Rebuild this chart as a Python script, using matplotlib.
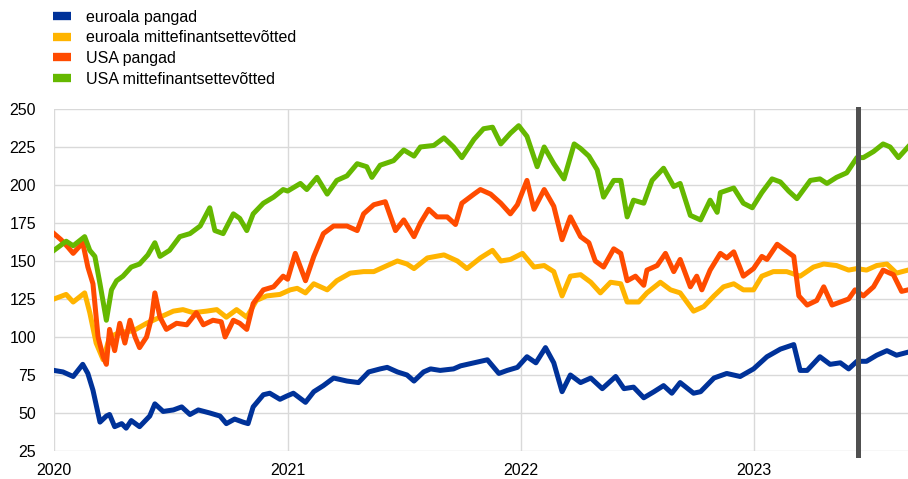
import pandas as pd
import matplotlib
matplotlib.use("Agg")
from matplotlib import pyplot as plt
from matplotlib.lines import Line2D

plt.rcParams['font.family'] = ['Liberation Sans', 'DejaVu Sans']

labels = ['euroala pangad', 'euroala mittefinantsettevõtted', 'USA pangad', 'USA mittefinantsettevõtted']
colors = ['#003299', '#FFB400', '#FF4B00', '#65B800']

ea_banks_dates = [
    '2020-01-01', '2020-01-15', '2020-01-31', '2020-02-15', '2020-02-23', '2020-03-02', '2020-03-13',
    '2020-03-23', '2020-03-28', '2020-04-05', '2020-04-16', '2020-04-23', '2020-05-01', '2020-05-14',
    '2020-05-30', '2020-06-07', '2020-06-20', '2020-07-06', '2020-07-19', '2020-08-01', '2020-08-14',
    '2020-09-01', '2020-09-17', '2020-09-27', '2020-10-10', '2020-10-23', '2020-10-31', '2020-11-08',
    '2020-11-24', '2020-12-04', '2020-12-20', '2020-12-30', '2021-01-10', '2021-01-29', '2021-02-11',
    '2021-02-26', '2021-03-14', '2021-04-04', '2021-04-22', '2021-05-08', '2021-05-26', '2021-06-06',
    '2021-06-22', '2021-07-07', '2021-07-18', '2021-08-02', '2021-08-13', '2021-08-28', '2021-09-18',
    '2021-09-29', '2021-10-20', '2021-11-10', '2021-11-28', '2021-12-11', '2021-12-27', '2022-01-11',
    '2022-01-25', '2022-02-09', '2022-02-22', '2022-03-07', '2022-03-20', '2022-04-05', '2022-04-21',
    '2022-05-09', '2022-05-30', '2022-06-12', '2022-06-27', '2022-07-13', '2022-07-29', '2022-08-13',
    '2022-08-26', '2022-09-08', '2022-09-29', '2022-10-10', '2022-10-31', '2022-11-20', '2022-12-11',
    '2023-01-01', '2023-01-22', '2023-02-12', '2023-03-05', '2023-03-15', '2023-03-26', '2023-04-15',
    '2023-05-01', '2023-05-17', '2023-05-30', '2023-06-12', '2023-06-27', '2023-07-13', '2023-07-29',
    '2023-08-13', '2023-08-31']
ea_banks = [
    78, 77, 74, 82, 76, 65, 44, 48, 49, 41, 43, 40, 45, 41,
    48, 56, 51, 52, 54, 49, 52, 50, 48, 43, 46, 44, 43, 54,
    62, 63, 59, 61, 63, 57, 64, 68, 73, 71, 70, 77, 79, 80,
    77, 75, 71, 77, 79, 78, 79, 81, 83, 85, 76, 78, 80, 87,
    83, 93, 83, 64, 75, 70, 73, 66, 74, 66, 67, 60, 64, 68,
    63, 70, 63, 64, 73, 76, 74, 79, 87, 92, 95, 78, 78, 87,
    82, 83, 79, 84, 84, 88, 91, 88, 90]

ea_nfc_dates = [
    '2020-01-01', '2020-01-20', '2020-01-31', '2020-02-18', '2020-02-26', '2020-03-07', '2020-03-18',
    '2020-03-28', '2020-04-13', '2020-05-04', '2020-05-25', '2020-06-15', '2020-07-06', '2020-07-21',
    '2020-08-06', '2020-08-27', '2020-09-12', '2020-09-27', '2020-10-13', '2020-10-29', '2020-11-13',
    '2020-11-29', '2020-12-20', '2021-01-05', '2021-01-16', '2021-01-29', '2021-02-11', '2021-03-04',
    '2021-03-19', '2021-04-09', '2021-04-30', '2021-05-16', '2021-06-06', '2021-06-22', '2021-07-07',
    '2021-07-18', '2021-08-08', '2021-09-03', '2021-09-24', '2021-10-09', '2021-10-30', '2021-11-18',
    '2021-12-01', '2021-12-16', '2022-01-04', '2022-01-22', '2022-02-07', '2022-02-22', '2022-03-07',
    '2022-03-20', '2022-04-05', '2022-04-21', '2022-05-06', '2022-05-22', '2022-06-07', '2022-06-17',
    '2022-07-05', '2022-07-18', '2022-08-08', '2022-08-24', '2022-09-08', '2022-09-29', '2022-10-15',
    '2022-10-31', '2022-11-15', '2022-12-01', '2022-12-16', '2023-01-01', '2023-01-14', '2023-02-01',
    '2023-02-22', '2023-03-15', '2023-04-05', '2023-04-21', '2023-05-11', '2023-05-30', '2023-06-12',
    '2023-06-27', '2023-07-13', '2023-07-29', '2023-08-13', '2023-08-31']
ea_nfc = [
    125, 128, 123, 129, 116, 96, 85, 100, 103, 104, 109, 113, 117, 118,
    116, 117, 118, 113, 118, 113, 124, 127, 128, 131, 132, 129, 135, 131,
    137, 142, 143, 143, 147, 150, 148, 145, 152, 154, 150, 145, 152, 157,
    150, 151, 155, 146, 147, 143, 127, 140, 141, 136, 129, 136, 135, 123,
    123, 129, 136, 131, 129, 117, 120, 127, 133, 135, 131, 131, 140, 143,
    143, 140, 146, 148, 147, 144, 145, 144, 147, 148, 142, 144]

us_banks_dates = [
    '2020-01-01', '2020-01-12', '2020-01-23', '2020-01-31', '2020-02-15', '2020-02-23', '2020-03-02',
    '2020-03-10', '2020-03-18', '2020-03-23', '2020-03-28', '2020-04-05', '2020-04-13', '2020-04-21',
    '2020-04-29', '2020-05-07', '2020-05-14', '2020-05-25', '2020-06-02', '2020-06-07', '2020-06-15',
    '2020-06-25', '2020-07-11', '2020-07-27', '2020-08-11', '2020-08-22', '2020-09-06', '2020-09-19',
    '2020-09-25', '2020-10-08', '2020-10-18', '2020-10-29', '2020-11-08', '2020-11-24', '2020-12-10',
    '2020-12-25', '2021-01-01', '2021-01-13', '2021-01-29', '2021-02-11', '2021-02-26', '2021-03-14',
    '2021-04-04', '2021-04-20', '2021-04-30', '2021-05-16', '2021-06-03', '2021-06-19', '2021-07-02',
    '2021-07-18', '2021-07-28', '2021-08-10', '2021-08-23', '2021-09-08', '2021-09-21', '2021-10-01',
    '2021-10-20', '2021-10-30', '2021-11-15', '2021-12-01', '2021-12-16', '2021-12-27', '2022-01-11',
    '2022-01-22', '2022-02-07', '2022-02-22', '2022-03-07', '2022-03-20', '2022-04-05', '2022-04-18',
    '2022-04-28', '2022-05-11', '2022-05-27', '2022-06-07', '2022-06-17', '2022-06-30', '2022-07-13',
    '2022-07-18', '2022-08-03', '2022-08-16', '2022-08-29', '2022-09-08', '2022-09-24', '2022-10-04',
    '2022-10-12', '2022-10-25', '2022-11-10', '2022-11-20', '2022-12-01', '2022-12-16', '2023-01-01',
    '2023-01-14', '2023-01-22', '2023-02-07', '2023-02-20', '2023-03-05', '2023-03-13', '2023-03-26',
    '2023-04-10', '2023-04-21', '2023-05-04', '2023-05-17', '2023-05-30', '2023-06-09', '2023-06-22',
    '2023-07-08', '2023-07-23', '2023-08-08', '2023-08-21', '2023-08-31']
us_banks = [
    168, 164, 159, 155, 162, 146, 135, 100, 87, 82, 105, 91, 109, 96,
    111, 100, 93, 100, 113, 129, 113, 105, 109, 108, 116, 108, 111, 110,
    100, 111, 109, 105, 122, 131, 133, 140, 138, 155, 137, 153, 168, 173,
    173, 170, 181, 187, 189, 170, 177, 166, 175, 184, 179, 179, 174, 188,
    194, 197, 194, 188, 181, 187, 203, 184, 197, 186, 164, 179, 166, 162,
    150, 146, 158, 155, 137, 140, 134, 144, 147, 155, 143, 151, 133, 140,
    131, 144, 155, 152, 156, 140, 145, 153, 151, 161, 157, 153, 127, 121,
    124, 133, 121, 123, 125, 131, 127, 133, 144, 141, 130, 131]

us_nfc_dates = [
    '2020-01-01', '2020-01-20', '2020-01-31', '2020-02-18', '2020-02-26', '2020-03-05', '2020-03-13',
    '2020-03-23', '2020-03-31', '2020-04-08', '2020-04-18', '2020-05-01', '2020-05-14', '2020-05-27',
    '2020-06-07', '2020-06-15', '2020-06-30', '2020-07-16', '2020-08-01', '2020-08-17', '2020-09-01',
    '2020-09-09', '2020-09-22', '2020-10-08', '2020-10-18', '2020-10-29', '2020-11-08', '2020-11-24',
    '2020-12-10', '2020-12-25', '2021-01-01', '2021-01-21', '2021-01-31', '2021-02-16', '2021-03-04',
    '2021-03-19', '2021-04-04', '2021-04-20', '2021-05-05', '2021-05-13', '2021-05-26', '2021-06-16',
    '2021-07-02', '2021-07-18', '2021-07-28', '2021-08-18', '2021-09-03', '2021-09-18', '2021-10-01',
    '2021-10-20', '2021-11-04', '2021-11-18', '2021-12-01', '2021-12-16', '2021-12-29', '2022-01-11',
    '2022-01-27', '2022-02-07', '2022-02-22', '2022-03-10', '2022-03-26', '2022-04-05', '2022-04-18',
    '2022-05-01', '2022-05-11', '2022-05-27', '2022-06-07', '2022-06-17', '2022-06-27', '2022-07-13',
    '2022-07-26', '2022-08-13', '2022-08-29', '2022-09-08', '2022-09-24', '2022-10-10', '2022-10-25',
    '2022-11-05', '2022-11-10', '2022-12-01', '2022-12-16', '2022-12-30', '2023-01-14', '2023-01-30',
    '2023-02-12', '2023-02-25', '2023-03-10', '2023-03-31', '2023-04-15', '2023-04-26', '2023-05-11',
    '2023-05-27', '2023-06-12', '2023-06-22', '2023-07-08', '2023-07-23', '2023-08-03', '2023-08-16',
    '2023-08-31']
us_nfc = [
    157, 163, 160, 166, 157, 153, 135, 111, 131, 137, 140, 146, 148, 154,
    162, 153, 157, 166, 168, 173, 185, 170, 168, 181, 178, 170, 181, 188,
    192, 197, 196, 201, 197, 205, 194, 203, 206, 214, 212, 205, 213, 216,
    223, 219, 225, 226, 231, 225, 218, 230, 237, 238, 227, 234, 239, 232,
    212, 225, 214, 204, 227, 224, 219, 210, 192, 203, 203, 179, 190, 188,
    203, 211, 199, 201, 180, 177, 190, 182, 195, 198, 188, 185, 195, 204,
    202, 196, 191, 203, 204, 201, 205, 208, 218, 218, 222, 227, 225, 218,
    225]

marker_date = '2023-06-13'

series = [
    (ea_banks_dates, ea_banks),
    (ea_nfc_dates, ea_nfc),
    (us_banks_dates, us_banks),
    (us_nfc_dates, us_nfc),
]

fig = plt.figure(figsize=(9.08, 4.79), dpi=100)
ax = fig.add_axes([0.0595, 0.0585, 0.9405, 0.714])

for (d, v), c, lab in zip(series, colors, labels):
    ax.plot(pd.to_datetime(d), v, color=c, lw=3.6, label=lab, solid_joinstyle='round')

# vertical marker line
ax.axvline(pd.Timestamp(marker_date), color='#505050', lw=3.6, ymin=-0.012, clip_on=False, zorder=5)

ax.set_ylim(25, 250)
ax.set_yticks(range(25, 251, 25))
ax.set_xlim(pd.Timestamp('2020-01-01'), pd.Timestamp('2023-08-31'))
years = pd.to_datetime(['2020-01-01', '2021-01-01', '2022-01-01', '2023-01-01'])
ax.set_xticks(years)
ax.set_xticklabels(['2020', '2021', '2022', '2023'])

ax.grid(True, color='#d9d9d9', lw=1)
ax.set_axisbelow(True)
for s in ax.spines.values():
    s.set_visible(False)
ax.tick_params(length=0, labelsize=11.5, colors='#000000')
ax.tick_params(axis='y', pad=13)
ax.tick_params(axis='x', pad=9)

handles = [Line2D([0], [0], color=c, lw=6, solid_capstyle='butt') for c in colors]
fig.legend(handles, labels, loc='upper left', bbox_to_anchor=(0.043, 1.01), frameon=False,
           fontsize=11.5, handlelength=1.1, handletextpad=0.95, labelspacing=0.36)

fig.savefig('out.png', dpi=100)
